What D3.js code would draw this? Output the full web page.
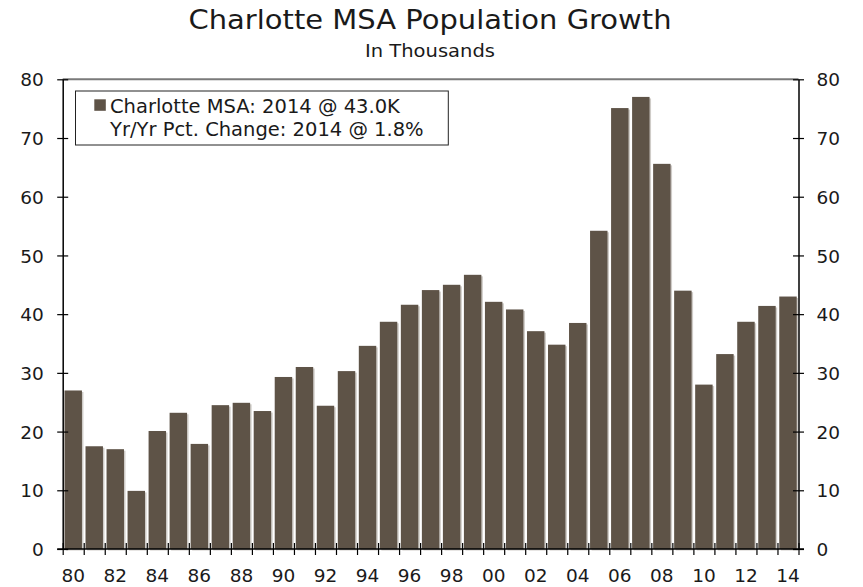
<!DOCTYPE html>
<html>
<head>
<meta charset="utf-8">
<script src="https://cdn.jsdelivr.net/npm/d3@7"></script>
<style>
  html, body { margin: 0; padding: 0; background: #fff; }
  svg { display: block; font-family: "DejaVu Sans", Verdana, sans-serif; }
</style>
</head>
<body>
<svg id="chart" width="863" height="587"></svg>
<script>
// ---- Data ----
const years = d3.range(1980, 2015);
const growth = [27.0, 17.5, 17.0, 9.9, 20.1, 23.2, 17.9, 24.5, 24.9, 23.5,
                29.3, 31.0, 24.4, 30.3, 34.6, 38.7, 41.6, 44.1, 45.0, 46.7,
                42.1, 40.8, 37.1, 34.8, 38.5, 54.2, 75.1, 77.0, 65.6, 44.0,
                28.0, 33.2, 38.7, 41.4, 43.0];
const yTicks = [0, 10, 20, 30, 40, 50, 60, 70, 80];
const xLabelYears = d3.range(1980, 2015, 2);
const titleText = "Charlotte MSA Population Growth";
const subtitleText = "In Thousands";
const legendLines = ["Charlotte MSA: 2014 @ 43.0K", "Yr/Yr Pct. Change: 2014 @ 1.8%"];

(function () {
// ---- Layout ----
const svg = d3.select("#chart");
const pL = 62.7, pR = 798.5, pT = 79.3, pB = 549;
const barColor = "#5e5347";
const textColor = "#1a1a1a";

const x = d3.scaleBand().domain(years).range([pL, pR]).paddingInner(0.17).paddingOuter(0.085);
const xLin = d3.scaleLinear().domain([1980, 2015]).range([pL, pR]);
const y = d3.scaleLinear().domain([0, 80]).range([pB, pT]);

// Title
svg.append("text").attr("x", 430).attr("y", 28.5).attr("text-anchor", "middle")
  .attr("font-size", 27).attr("fill", textColor)
  .attr("textLength", 483).attr("lengthAdjust", "spacingAndGlyphs").text(titleText);
svg.append("text").attr("x", 430).attr("y", 57).attr("text-anchor", "middle")
  .attr("font-size", 18.5).attr("fill", textColor)
  .attr("textLength", 130).attr("lengthAdjust", "spacingAndGlyphs").text(subtitleText);

// Bars shadow
const data = years.map((yr, i) => ({ yr, v: growth[i] }));
svg.append("g").selectAll("rect").data(data).join("rect")
  .attr("x", d => x(d.yr) + 1.5).attr("y", d => y(d.v) + 1.5)
  .attr("width", x.bandwidth()).attr("height", d => y(0) - y(d.v))
  .attr("fill", "#cfccc8");
// Bars
svg.append("g").selectAll("rect").data(data).join("rect")
  .attr("x", d => x(d.yr)).attr("y", d => y(d.v))
  .attr("width", x.bandwidth()).attr("height", d => y(0) - y(d.v))
  .attr("fill", barColor);

// Top frame line
svg.append("line").attr("x1", pL).attr("x2", pR).attr("y1", pT).attr("y2", pT)
  .attr("stroke", "#7a7a7a").attr("stroke-width", 2);

// Left axis
const yAxisL = d3.axisLeft(y).tickValues(yTicks).tickSizeInner(5.5).tickSizeOuter(0).tickPadding(13.5);
const gL = svg.append("g").attr("transform", `translate(${pL},0)`).call(yAxisL);
gL.selectAll(".tick line").attr("x2", 5.5).attr("x1", -5.5);
// Right axis
const yAxisR = d3.axisRight(y).tickValues(yTicks).tickSizeInner(5.5).tickSizeOuter(0).tickPadding(12.5);
const gR = svg.append("g").attr("transform", `translate(${pR},0)`).call(yAxisR);
gR.selectAll(".tick line").attr("x1", -5.5).attr("x2", 5.5);

// Bottom axis: ticks at every year boundary
const xTickAxis = d3.axisBottom(xLin).tickValues(d3.range(1980, 2016)).tickFormat("").tickSizeInner(6).tickSizeOuter(0);
const gB = svg.append("g").attr("transform", `translate(0,${pB})`).call(xTickAxis);
gB.selectAll(".tick line").attr("y1", -6).attr("y2", 6);
gB.select(".domain").attr("d", `M${pL - 5.5},0H${pR + 5.5}`);

// Bottom labels at even year band centers
const xLabelAxis = d3.axisBottom(x).tickValues(xLabelYears)
  .tickFormat(d => String(d % 100).padStart(2, "0")).tickSize(0).tickPadding(20);
const gBL = svg.append("g").attr("transform", `translate(0,${pB})`).call(xLabelAxis);
gBL.select(".domain").remove();

[gL, gR, gB, gBL].forEach(g => {
  g.selectAll("text").attr("font-family", "DejaVu Sans, Verdana, sans-serif")
    .attr("font-size", 18.5).attr("fill", textColor);
  g.selectAll("line").attr("stroke", "#000").attr("stroke-width", 1.2);
  g.selectAll(".domain").attr("stroke", "#000").attr("stroke-width", 1.5);
});
gL.selectAll("text").attr("dy", "0.36em");
gR.selectAll("text").attr("dy", "0.36em");

// Legend
const lg = svg.append("g");
lg.append("rect").attr("x", 75.5).attr("y", 91).attr("width", 372.8).attr("height", 54)
  .attr("fill", "#fff").attr("stroke", "#222").attr("stroke-width", 1);
lg.append("rect").attr("x", 94.3).attr("y", 99.3).attr("width", 11.5).attr("height", 11.5).attr("fill", barColor);
lg.selectAll("text.lt").data(legendLines).join("text").attr("class", "lt")
  .attr("x", 110).attr("y", (d, i) => 113.3 + i * 22.3)
  .attr("font-size", 19.5).attr("fill", textColor).text(d => d);
})();
</script>
</body>
</html>
